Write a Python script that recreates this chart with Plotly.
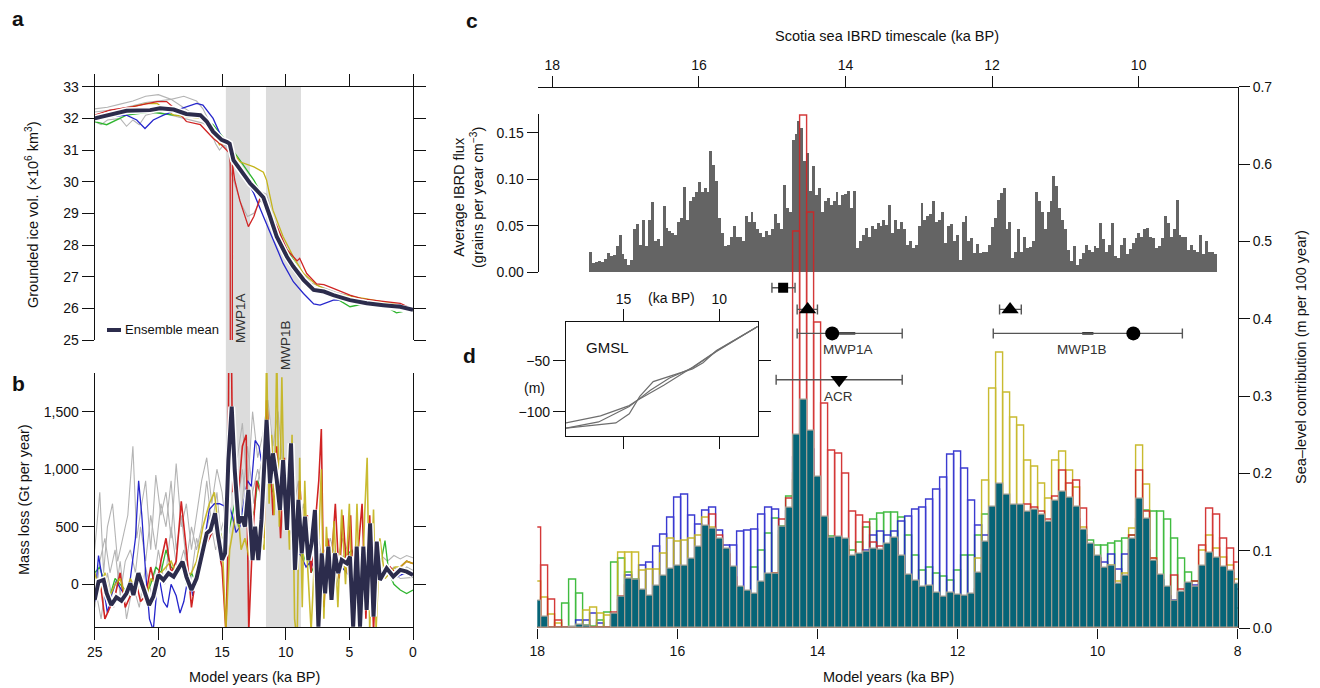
import plotly.graph_objects as go

W, H = 1320, 688
OFF = 8  # the page body margin shifts the figure by this many pixels
def px(x): return (x - OFF) / W
def py(y): return 1 - (y - OFF) / H

FONT = "Liberation Sans, Arial, Helvetica, sans-serif"
INK = "#111111"
C_MEAN = "#2c2c4c"
C_RED = "#d02424"
C_BLUE = "#2626cc"
C_GREEN = "#2fb52f"
C_YEL = "#c4b41a"
C_GREY = "#b4b4b4"
C_TEAL = "#066477"

# ---------------- Panel a: grounded ice volume (x10^6 km^3) ----------------
vol_mean_t = [25, 23.8, 22.5, 20.65, 19.87, 18.8, 17.8, 16.7, 16.2, 15.7, 15.03, 14.6, 14.4, 14.1, 13.3, 12.8, 12.3, 11.75, 11.23, 10.7, 9.9, 9.4, 8.6, 7.8, 7.0, 6.26, 4.95, 3.64, 2.33, 1.0, 0]
vol_mean = [32.0, 32.1, 32.24, 32.26, 32.32, 32.28, 32.14, 32.1, 31.9, 31.58, 31.32, 31.25, 31.2, 30.68, 30.2, 29.95, 29.74, 29.5, 28.9, 28.26, 27.63, 27.32, 26.9, 26.58, 26.53, 26.42, 26.26, 26.16, 26.1, 26.05, 25.95]

vol_blue_t = [25, 23.8, 22.5, 21.7, 21.05, 20.4, 19.6, 18.56, 17.0, 16.5, 15.7, 15.0, 14.1, 13.05, 12.5, 11.75, 11.0, 10.2, 9.4, 8.6, 7.8, 7.3, 6.26, 4.95, 3.64, 1.0, 0]
vol_blue = [32.05, 32.05, 32.1, 31.95, 31.68, 31.95, 32.1, 32.26, 32.47, 32.42, 32.0, 31.37, 30.84, 30.05, 29.63, 28.9, 28.16, 27.42, 26.84, 26.47, 26.14, 26.1, 26.26, 26.26, 26.18, 26.1, 25.97]

vol_red_t = [25, 23.8, 22, 20.1, 19.35, 18.56, 17.8, 16.7, 15.7, 15.03, 14.4, 14.36, 14.34, 14.2, 14.18, 14.0, 13.6, 12.93, 12.5, 12.0, 11.5, 10.7, 9.9, 9.1, 8.9, 8.6, 8.35, 7.57, 7.0, 6.26, 5.5, 4.95, 4.0, 3.0, 2.0, 1.0, 0]
vol_red = [32.1, 32.26, 32.37, 32.53, 32.53, 32.26, 31.9, 31.8, 31.37, 31.16, 30.9, 30.6, 20.0, 20.0, 30.55, 30.05, 29.4, 28.58, 28.9, 29.5, 29.15, 28.6, 27.85, 27.5, 27.58, 27.3, 27.1, 26.77, 26.75, 26.63, 26.5, 26.42, 26.3, 26.26, 26.2, 26.16, 25.97]

vol_green_t = [25, 24.06, 22.5, 20.65, 18.8, 16.7, 15.7, 14.63, 13.6, 12.5, 11.75, 11.0, 10.2, 9.4, 8.6, 7.8, 6.26, 4.95, 3.64, 2.33, 1.3, 0]
vol_green = [31.9, 31.8, 32.1, 32.2, 32.1, 32.05, 31.8, 31.26, 30.68, 30.05, 29.5, 28.8, 28.05, 27.53, 27.0, 26.68, 26.37, 26.05, 26.16, 26.1, 25.86, 25.97]

vol_yel_t = [25, 23.8, 22.0, 20.9, 20.1, 18.8, 16.7, 15.7, 15.2, 14.63, 14.1, 13.6, 12.5, 11.75, 11.5, 11.0, 10.2, 9.4, 8.6, 7.57, 6.26, 3.64, 1.0, 0]
vol_yel = [32.05, 32.15, 32.37, 32.47, 32.47, 32.1, 32.0, 31.63, 31.16, 31.26, 30.9, 30.63, 30.47, 30.3, 30.05, 29.1, 28.26, 27.63, 27.1, 26.74, 26.47, 26.3, 26.1, 25.97]

vol_grey1_t = [25, 24, 23, 22, 21, 20, 19, 18, 17, 16.5, 16, 15.5, 15, 14.5, 14, 13, 12, 11.5, 11, 10.5, 10, 9.5, 9, 8.5, 8, 7, 6, 5, 4, 3, 2, 1, 0]
vol_grey1 = [32.3, 32.35, 32.45, 32.55, 32.7, 32.75, 32.6, 32.7, 32.55, 32.3, 31.9, 31.5, 31.2, 31.0, 30.6, 30.1, 29.7, 29.6, 28.9, 28.4, 27.9, 27.5, 27.2, 27.0, 26.7, 26.55, 26.45, 26.35, 26.25, 26.2, 26.15, 26.05, 25.95]
vol_grey2_t = [25, 24.5, 24, 23, 22.5, 22, 21.5, 21, 20, 19, 18, 17, 16.5, 16, 15.5, 15.2, 15, 14.5, 14, 13, 12.5, 12, 11.5, 11, 10.5, 10, 9.5, 9, 8.5, 8, 7, 6, 5, 4, 3, 2, 1, 0]
vol_grey2 = [31.9, 31.8, 31.95, 32.0, 31.75, 31.95, 31.8, 32.1, 32.2, 32.1, 32.0, 31.9, 31.85, 31.7, 31.2, 31.0, 31.1, 31.2, 30.7, 30.2, 29.9, 29.6, 29.4, 28.8, 28.2, 27.7, 27.3, 27.0, 26.8, 26.6, 26.5, 26.4, 26.3, 26.2, 26.15, 26.1, 26.0, 25.95]
vol_grey3_t = [25, 23, 21, 19, 17.5, 16, 15, 14.5, 14.3, 13.5, 13, 12.5, 12, 11.5, 11, 10, 9, 8, 6, 4, 2, 0]
vol_grey3 = [32.2, 32.3, 32.5, 32.6, 32.2, 31.8, 31.15, 31.0, 30.3, 29.3, 28.9, 29.0, 29.4, 29.2, 28.6, 27.8, 27.3, 26.8, 26.5, 26.3, 26.15, 25.95]

# ---------------- Panel b: mass loss (Gt per year) ----------------
mass_mean_t = [25.0, 24.7, 24.3, 24.06, 23.7, 23.3, 22.9, 22.5, 22.2, 21.96, 21.57, 21.3, 21.05, 20.73, 20.4, 20.0, 19.6, 19.2, 18.8, 18.4, 18.1, 17.8, 17.4, 17.0, 16.6, 16.2, 15.9, 15.55, 15.3, 15.0, 14.76, 14.5, 14.24, 14.0, 13.7, 13.45, 13.2, 12.93, 12.6, 12.4, 12.15, 11.9, 11.5, 11.23, 11.0, 10.7, 10.45, 10.2, 9.9, 9.58, 9.27, 9.0, 8.74, 8.48, 8.22, 7.96, 7.7, 7.43, 7.17, 6.9, 6.65, 6.4, 6.13, 5.87, 5.6, 5.2, 4.95, 4.7, 4.42, 4.16, 3.9, 3.64, 3.37, 3.1, 2.85, 2.6, 2.07, 1.55, 1.0, 0.5, 0.0]
mass_mean = [-136, 23, 38, -78, -180, -113, -142, -78, 9, -93, 96, 9, -64, -180, -107, 81, 38, 96, 67, 139, 197, 67, -49, 52, 269, 443, 472, 617, 414, 211, 269, 1080, 1544, 993, 530, 588, 501, 820, 211, 501, 211, 559, 1428, 877, 1138, 906, 646, 1080, 472, 1225, 125, 733, 269, 588, 211, 356, 646, -368, 269, -78, 327, -136, 269, 96, 211, 182, 240, -368, 327, -368, 327, -223, 530, -281, 371, 38, 139, 67, 125, 110, 81]

mass_blue_t = [25, 24.7, 24.4, 24.0, 23.7, 23.3, 22.9, 22.5, 22.2, 21.8, 21.55, 21.3, 21.0, 20.7, 20.4, 20.0, 19.6, 19.3, 19.0, 18.6, 18.3, 18.0, 17.6, 17.3, 16.9, 16.5, 16.0, 15.6, 15.2, 14.8, 14.5, 14.2, 13.9, 13.6, 13.3, 13.0, 12.7, 12.4, 12.1, 11.8, 11.5, 11.2, 10.8, 10.4, 10.0, 9.6, 9.2, 8.8, 8.4, 8.0, 7.6, 7.2, 6.8, 6.4, 6.0, 5.6, 5.2, 4.8, 4.4, 4.0, 3.5, 3.0, 2.5, 2.0, 1.5, 1.0, 0.5, 0]
mass_blue = [-150, 250, 50, -250, -100, 30, -50, -100, 50, 400, 900, 600, 100, -300, -400, 100, -150, -200, 0, -100, -250, -150, 100, -100, 100, 300, 650, 700, 700, 680, 700, 600, 450, 500, 700, 900, 850, 1250, 1200, 1000, 1150, 900, 1000, 700, 600, 450, 300, 250, 150, 200, 100, 150, 50, 0, 100, 150, 100, 50, 150, 100, 50, 100, 50, 100, 50, 80, 100, 80]

mass_red_t = [25, 24.6, 24.2, 23.8, 23.4, 23.0, 22.6, 22.2, 21.8, 21.4, 21.0, 20.6, 20.2, 19.8, 19.4, 19.0, 18.6, 18.2, 17.8, 17.4, 17.0, 16.5, 16.0, 15.6, 15.3, 15.0, 14.7, 14.55, 14.45, 14.3, 14.15, 14.0, 13.7, 13.4, 13.1, 12.9, 12.6, 12.3, 12.0, 11.7, 11.5, 11.3, 11.0, 10.7, 10.4, 10.1, 9.8, 9.5, 9.2, 8.9, 8.6, 8.3, 8.0, 7.7, 7.4, 7.2, 7.0, 6.7, 6.4, 6.1, 5.8, 5.5, 5.2, 4.9, 4.6, 4.3, 4.0, 3.7, 3.4, 3.1, 2.8, 2.5, 2.2, 1.8, 1.4, 1.0, 0.5, 0]
mass_red = [-100, 50, -300, -200, -100, 100, -200, -100, 50, -150, -100, 150, -50, 200, 400, 100, 200, 720, 300, -200, 100, 300, 400, 500, 300, 150, -400, 200, 2500, 2500, 800, 1100, 800, 1200, 1300, -400, 400, 900, 800, 400, 1600, 1300, 600, 1200, 400, 1100, 600, 1000, 200, 900, 300, 600, 100, 500, 900, 1350, -200, 400, 200, 700, 50, 600, 100, 600, -300, 300, 700, -300, 600, -400, 300, 50, 100, 150, 100, 150, 200, 180]

mass_yel_t = [25, 24.6, 24.2, 23.8, 23.4, 23.0, 22.6, 22.2, 21.8, 21.4, 21.0, 20.6, 20.2, 19.8, 19.4, 19.0, 18.6, 18.2, 17.8, 17.4, 17.0, 16.5, 16.0, 15.6, 15.3, 15.0, 14.7, 14.4, 14.1, 13.8, 13.5, 13.2, 12.9, 12.6, 12.3, 12.0, 11.7, 11.5, 11.3, 11.1, 10.9, 10.7, 10.5, 10.3, 10.1, 9.9, 9.7, 9.5, 9.3, 9.1, 8.9, 8.7, 8.5, 8.3, 8.0, 7.7, 7.4, 7.2, 7.0, 6.8, 6.5, 6.2, 5.9, 5.6, 5.3, 5.0, 4.7, 4.4, 4.1, 3.8, 3.6, 3.4, 3.1, 2.9, 2.6, 2.2, 1.8, 1.4, 1.0, 0.5, 0]
mass_yel = [100, -50, 100, -100, 0, 50, -100, 50, -50, 0, -150, 50, 0, 100, 150, 200, 100, 200, 50, 100, 200, 500, 700, 800, 500, 400, -400, 300, 500, 700, 300, 400, 250, 300, 500, 400, 300, 2000, 700, 1300, 600, 2000, 500, 1800, 600, 900, 300, 1300, -300, -500, 1100, -200, 900, 200, -400, 300, 400, 1000, -300, 500, -100, 550, -200, 650, 0, 700, -400, 700, -400, 600, 1100, -400, 650, -400, 400, 50, 100, 150, 150, 200, 180]

mass_green_t = [25, 24.6, 24.2, 23.8, 23.4, 23.0, 22.6, 22.2, 21.8, 21.4, 21.0, 20.6, 20.2, 19.8, 19.4, 19.0, 18.6, 18.2, 17.8, 17.4, 17.0, 16.5, 16.0, 15.5, 15.0, 14.7, 14.4, 14.0, 13.7, 13.4, 13.1, 12.8, 12.5, 12.2, 11.9, 11.6, 11.3, 11.0, 10.7, 10.4, 10.1, 9.8, 9.5, 9.2, 8.9, 8.6, 8.3, 8.0, 7.6, 7.2, 6.8, 6.4, 6.0, 5.6, 5.2, 4.8, 4.4, 4.0, 3.5, 3.0, 2.5, 2.2, 1.9, 1.5, 1.0, 0.5, 0]
mass_green = [100, 150, 0, -100, 50, 0, -50, -100, 0, 100, -100, 0, 150, 100, 300, 150, 100, 200, 0, 100, 0, 300, 500, 600, 400, 300, 500, 700, 500, 600, 800, 700, 600, 900, 800, 1000, 900, 800, 900, 800, 900, 600, 500, 300, 400, 200, 300, 100, 200, 100, 150, 200, 100, 200, 250, 300, 150, 200, 150, 50, 200, 380, 100, 0, -50, -80, -50]

mass_grey1_t = [25, 24.6, 24.3, 24.0, 23.6, 23.2, 22.8, 22.4, 22.0, 21.7, 21.3, 21.0, 20.6, 20.2, 19.8, 19.4, 19.0, 18.6, 18.2, 17.8, 17.4, 17.0, 16.6, 16.2, 15.8, 15.4, 15.0, 14.6, 14.2, 13.8, 13.4, 13.0, 12.6, 12.2, 11.8, 11.4, 11.0, 10.6, 10.2, 9.8, 9.4, 9.0, 8.6, 8.2, 7.8, 7.4, 7.0, 6.5, 6.0, 5.5, 5.0, 4.5, 4.0, 3.5, 3.0, 2.5, 2.0, 1.5, 1.0, 0.5, 0]
mass_grey1 = [300, 800, 100, 500, 700, 200, 400, 600, 1200, 400, 700, 900, 300, 950, 600, 800, 400, 1050, 500, 700, 300, 600, 900, 1100, 700, 1000, 800, 400, 1300, 1100, 1400, 800, 1500, 1100, 1300, 1600, 1200, 1500, 1000, 700, 600, 500, 700, 300, 600, 300, 200, 400, 200, 400, 250, 300, 200, 300, 200, 250, 200, 250, 220, 250, 230]
mass_grey2_t = [25, 24.6, 24.2, 23.8, 23.4, 23.0, 22.6, 22.2, 21.8, 21.4, 21.0, 20.6, 20.2, 19.8, 19.4, 19.0, 18.6, 18.2, 17.8, 17.4, 17.0, 16.6, 16.2, 15.8, 15.4, 15.0, 14.6, 14.2, 13.8, 13.4, 13.0, 12.6, 12.2, 11.8, 11.4, 11.0, 10.6, 10.2, 9.8, 9.4, 9.0, 8.6, 8.2, 7.8, 7.4, 7.0, 6.5, 6.0, 5.5, 5.0, 4.5, 4.0, 3.5, 3.0, 2.5, 2.0, 1.5, 1.0, 0.5, 0]
mass_grey2 = [-200, 200, 400, 100, 300, -100, 200, 300, 100, 500, 200, 600, 300, 700, 500, 900, 300, 600, 200, 500, 300, 500, 900, 500, 800, 300, 600, 900, 700, 1000, 600, 800, 1000, 800, 1100, 900, 1000, 700, 900, 400, 700, 300, 500, 200, 400, 100, 300, 0, 250, 100, 200, 50, 150, 100, 150, 100, 150, 100, 150, 120]
mass_grey3_t = [25, 24.5, 24.0, 23.5, 23.0, 22.5, 22.0, 21.5, 21.0, 20.5, 20.0, 19.5, 19.0, 18.5, 18.0, 17.5, 17.0, 16.5, 16.0, 15.5, 15.0, 14.5, 14.0, 13.5, 13.0, 12.5, 12.0, 11.5, 11.0, 10.5, 10.0, 9.5, 9.0, 8.5, 8.0, 7.5, 7.0, 6.0, 5.0, 4.0, 3.0, 2.0, 1.0, 0]
mass_grey3 = [0, -300, 100, -200, 200, -300, 0, -200, 150, -100, 300, 0, 500, 100, 300, 0, 400, 200, 600, 300, 500, 700, 900, 600, 1200, 700, 1000, 1300, 900, 1100, 800, 600, 900, 400, 500, 200, 300, 100, 200, 0, 100, 150, 50, 60]

# ---------------- Panel c: IBRD flux (Scotia sea timescale) ----------------
ibrd_start = 17.5
ibrd_step = 0.04
ibrd_flux = [
    0.022, 0.010, 0.011, 0.012, 0.011, 0.014, 0.020, 0.017, 0.018, 0.028,
    0.040, 0.019, 0.014, 0.008, 0.013, 0.046, 0.052, 0.029, 0.056, 0.028,
    0.056, 0.075, 0.033, 0.035, 0.028, 0.071, 0.047, 0.044, 0.042, 0.040,
    0.054, 0.058, 0.091, 0.056, 0.076, 0.081, 0.086, 0.097, 0.086, 0.090,
    0.086, 0.130, 0.115, 0.098, 0.058, 0.042, 0.028, 0.029, 0.038, 0.049,
    0.038, 0.038, 0.033, 0.060, 0.054, 0.065, 0.054, 0.046, 0.042, 0.038,
    0.044, 0.040, 0.046, 0.062, 0.053, 0.046, 0.094, 0.069, 0.065, 0.142,
    0.148, 0.162, 0.155, 0.119, 0.128, 0.087, 0.114, 0.083, 0.090, 0.065,
    0.076, 0.080, 0.072, 0.076, 0.086, 0.072, 0.083, 0.084, 0.087, 0.069,
    0.087, 0.026, 0.033, 0.040, 0.047, 0.038, 0.049, 0.046, 0.053, 0.049,
    0.056, 0.051, 0.072, 0.042, 0.056, 0.046, 0.054, 0.046, 0.029, 0.033,
    0.026, 0.029, 0.049, 0.074, 0.056, 0.060, 0.062, 0.076, 0.054, 0.056,
    0.065, 0.031, 0.049, 0.052, 0.033, 0.040, 0.013, 0.054, 0.060, 0.033,
    0.037, 0.020, 0.030, 0.020, 0.022, 0.022, 0.029, 0.048, 0.058, 0.078,
    0.085, 0.090, 0.046, 0.054, 0.015, 0.022, 0.046, 0.022, 0.038, 0.026,
    0.027, 0.033, 0.086, 0.076, 0.065, 0.046, 0.065, 0.076, 0.103, 0.092,
    0.069, 0.056, 0.046, 0.024, 0.012, 0.028, 0.008, 0.014, 0.020, 0.029,
    0.024, 0.022, 0.028, 0.026, 0.053, 0.035, 0.022, 0.029, 0.053, 0.017,
    0.015, 0.029, 0.037, 0.019, 0.025, 0.031, 0.037, 0.042, 0.038, 0.046,
    0.047, 0.038, 0.037, 0.026, 0.028, 0.037, 0.060, 0.053, 0.038, 0.046,
    0.078, 0.040, 0.038, 0.038, 0.024, 0.029, 0.024, 0.022, 0.040, 0.019,
    0.033, 0.022, 0.022, 0.019]
ibrd_age = [round(ibrd_start - ibrd_step * (i + 0.5), 3) for i in range(len(ibrd_flux))]

# ---------------- Panel d: sea-level contribution (m per 100 year) ----------------
hist_age = [round(18.0 - 0.1 * k, 1) for k in range(101)]
hist_mean = [
    0.035, 0.015, 0.0, 0.0, 0.0, 0.002, 0.004, 0.003, 0.001, 0.0,
    0.0, 0.018, 0.041, 0.064, 0.063, 0.050, 0.042, 0.055, 0.067, 0.077,
    0.080, 0.080, 0.089, 0.105, 0.132, 0.129, 0.115, 0.102, 0.079, 0.054,
    0.048, 0.045, 0.060, 0.070, 0.070, 0.131, 0.155, 0.250, 0.295, 0.255,
    0.196, 0.144, 0.117, 0.118, 0.115, 0.093, 0.096, 0.099, 0.102, 0.101,
    0.109, 0.117, 0.094, 0.069, 0.061, 0.054, 0.055, 0.046, 0.040, 0.046,
    0.043, 0.042, 0.044, 0.071, 0.111, 0.157, 0.186, 0.172, 0.160, 0.160,
    0.150, 0.153, 0.146, 0.138, 0.164, 0.176, 0.168, 0.157, 0.127, 0.109,
    0.094, 0.078, 0.081, 0.057, 0.068, 0.116, 0.167, 0.141, 0.087, 0.069,
    0.053, 0.035, 0.047, 0.059, 0.053, 0.081, 0.098, 0.091, 0.079, 0.074,
    0.057]
hist_red = [
    0.13, 0.081, 0.037, 0.009, 0, 0, 0, 0, 0, 0,
    0, 0.02, 0.04, 0.055, 0.05, 0.04, 0.038, 0.037, 0.04, 0.04,
    0.05, 0.057, 0.065, 0.09, 0.13, 0.147, 0.119, 0.095, 0.065, 0.02,
    0.01, 0.005, 0.02, 0.04, 0.07, 0.14, 0.167, 0.513, 0.663, 0.537,
    0.395, 0.29, 0.229, 0.225, 0.20, 0.15, 0.145, 0.136, 0.11, 0.105,
    0.1, 0.11, 0.05, 0.03, 0.02, 0.02, 0.015, 0.02, 0.03, 0.02,
    0.015, 0.02, 0.03, 0.05, 0.08, 0.125, 0.135, 0.12, 0.14, 0.145,
    0.16, 0.155, 0.15, 0.14, 0.17, 0.203, 0.186, 0.19, 0.154, 0.101,
    0.09, 0.07, 0.075, 0.045, 0.066, 0.12, 0.203, 0.15, 0.09, 0.04,
    0.03, 0.067, 0.05, 0.055, 0.06, 0.106, 0.154, 0.147, 0.116, 0.103,
    0.085]
hist_blue = [
    0, 0, 0, 0, 0, 0, 0.009, 0.009, 0.018, 0.005,
    0, 0.01, 0.035, 0.067, 0.06, 0.081, 0.085, 0.105, 0.121, 0.142,
    0.168, 0.172, 0.145, 0.134, 0.152, 0.156, 0.126, 0.106, 0.106, 0.124,
    0.126, 0.127, 0.146, 0.155, 0.153, 0.125, 0.15, 0.22, 0.25, 0.23,
    0.14, 0.12, 0.08, 0.075, 0.07, 0.085, 0.09, 0.1, 0.12, 0.125,
    0.12, 0.125, 0.137, 0.144, 0.153, 0.155, 0.166, 0.179, 0.194, 0.224,
    0.228, 0.206, 0.164, 0.132, 0.119, 0.12, 0.128, 0.127, 0.103, 0.12,
    0.115, 0.11, 0.1, 0.13, 0.14, 0.15, 0.155, 0.14, 0.12, 0.09,
    0.09, 0.085, 0.095, 0.075, 0.095, 0.1, 0.12, 0.1, 0.08, 0.061,
    0.041, 0.035, 0.045, 0.05, 0.055, 0.06, 0.07, 0.07, 0.072, 0.07,
    0.05]
hist_green = [
    0, 0, 0, 0, 0.032, 0.063, 0.045, 0.003, 0.002, 0.01,
    0.02, 0.084, 0.09, 0.071, 0.063, 0.02, 0.015, 0.02, 0.03, 0.04,
    0.03, 0.025, 0.04, 0.075, 0.09, 0.1, 0.065, 0.06, 0.05, 0.035,
    0.045, 0.078, 0.1, 0.122, 0.141, 0.131, 0.17, 0.19, 0.2, 0.19,
    0.13, 0.14, 0.118, 0.115, 0.105, 0.1, 0.11, 0.13, 0.14, 0.148,
    0.149, 0.149, 0.142, 0.12, 0.094, 0.074, 0.078, 0.07, 0.066, 0.061,
    0.074, 0.094, 0.094, 0.12, 0.146, 0.15, 0.145, 0.138, 0.13, 0.125,
    0.12, 0.115, 0.11, 0.125, 0.13, 0.125, 0.13, 0.13, 0.11, 0.113,
    0.106, 0.106, 0.109, 0.112, 0.115, 0.12, 0.14, 0.152, 0.15, 0.15,
    0.14, 0.115, 0.089, 0.071, 0.06, 0.05, 0.045, 0.04, 0.038, 0.03,
    0.025]
hist_yel = [
    0.06, 0.039, 0.017, 0.006, 0, 0, 0, 0.022, 0.026, 0.019,
    0.016, 0.01, 0.097, 0.097, 0.097, 0.074, 0.076, 0.076, 0.096, 0.115,
    0.112, 0.113, 0.116, 0.12, 0.143, 0.13, 0.11, 0.097, 0.06, 0.04,
    0.02, 0.02, 0.035, 0.05, 0.07, 0.12, 0.14, 0.2, 0.22, 0.2,
    0.09, 0.07, 0.06, 0.05, 0.04, 0.04, 0.035, 0.04, 0.05, 0.06,
    0.07, 0.08, 0.06, 0.04, 0.03, 0.025, 0.02, 0.015, 0.02, 0.025,
    0.015, 0.01, 0.03, 0.09, 0.19, 0.31, 0.356, 0.304, 0.272, 0.261,
    0.217, 0.209, 0.187, 0.167, 0.216, 0.228, 0.203, 0.181, 0.13, 0.1,
    0.08, 0.07, 0.08, 0.06, 0.07, 0.129, 0.236, 0.185, 0.09, 0.05,
    0.02, 0.01, 0.03, 0.04, 0.05, 0.1, 0.12, 0.103, 0.091, 0.081,
    0.062]

# Dated events (model years, ka BP): central age, older bound, younger bound
event_age = [14.49, 14.14, 13.79, 13.69, 11.25, 9.49]
event_old = [14.65, 14.29, 14.29, 14.59, 11.40, 11.49]
event_young = [14.32, 14.00, 12.79, 12.79, 11.09, 8.79]
event_label = ["", "", "MWP1A", "ACR", "", "MWP1B"]
# narrower inner (1-sigma) ranges drawn darker on MWP1A and MWP1B
inner_old = [13.71, 10.22]
inner_young = [13.46, 10.06]

# GMSL inset (ka BP, m)
gmsl_a_t = [18, 16.2, 14.7, 14.3, 12.9, 11.4, 10.15, 8.0]
gmsl_a = [-111, -104, -94, -89, -74, -56.5, -40.5, -16.5]
gmsl_b_t = [18, 15.4, 14.7, 14.15, 13.45, 12.9, 11.4, 10.85, 10.15, 8.0]
gmsl_b = [-116, -111, -102, -85, -70.5, -67, -58, -52, -40, -16.5]
gmsl_c_t = [18, 16.3, 14.7, 13.6, 12.6, 11.4, 10.15, 8.0]
gmsl_c = [-116, -110, -95, -79, -67, -57, -41, -16.5]

# ---------------- Figure ----------------
fig = go.Figure()

def line(t, v, color, width, xa, ya, opacity=1.0):
    fig.add_trace(go.Scatter(x=t, y=v, mode="lines", xaxis=xa, yaxis=ya,
                             line=dict(color=color, width=width), opacity=opacity,
                             showlegend=False, hoverinfo="skip"))

# panel a
for t, v in [(vol_grey1_t, vol_grey1), (vol_grey2_t, vol_grey2), (vol_grey3_t, vol_grey3)]:
    line(t, v, C_GREY, 1.1, "x", "y")
line(vol_green_t, vol_green, C_GREEN, 1.3, "x", "y")
line(vol_yel_t, vol_yel, C_YEL, 1.3, "x", "y")
line(vol_blue_t, vol_blue, C_BLUE, 1.3, "x", "y")
line(vol_red_t, vol_red, C_RED, 1.3, "x", "y")
line(vol_mean_t, vol_mean, "white", 7, "x", "y")
line(vol_mean_t, vol_mean, C_MEAN, 4, "x", "y")

# panel b
for t, v in [(mass_grey1_t, mass_grey1), (mass_grey2_t, mass_grey2), (mass_grey3_t, mass_grey3)]:
    line(t, v, C_GREY, 1.1, "x2", "y2")
line(mass_green_t, mass_green, C_GREEN, 1.3, "x2", "y2")
line(mass_blue_t, mass_blue, C_BLUE, 1.3, "x2", "y2")
line(mass_red_t, mass_red, C_RED, 1.6, "x2", "y2")
line(mass_yel_t, mass_yel, C_YEL, 1.6, "x2", "y2", 0.9)
line(mass_mean_t, mass_mean, "white", 7, "x2", "y2")
line(mass_mean_t, mass_mean, C_MEAN, 4, "x2", "y2")

# panel c: IBRD flux
fig.add_trace(go.Bar(x=ibrd_age, y=ibrd_flux, xaxis="x3", yaxis="y3", width=ibrd_step,
                     marker=dict(color="#646464", line=dict(width=0)),
                     showlegend=False, hoverinfo="skip"))

# panel d: histograms
for vals, col in [(hist_green, C_GREEN), (hist_blue, C_BLUE), (hist_yel, C_YEL), (hist_red, C_RED)]:
    fig.add_trace(go.Bar(x=hist_age, y=vals, xaxis="x4", yaxis="y4", width=0.1,
                         marker=dict(color="rgba(255,255,255,0)", line=dict(color=col, width=1.4)),
                         opacity=0.9, showlegend=False, hoverinfo="skip"))
fig.add_trace(go.Bar(x=hist_age, y=hist_mean, xaxis="x4", yaxis="y4", width=0.1,
                     marker=dict(color=C_TEAL, line=dict(color="#a19d92", width=1.3)),
                     showlegend=False, hoverinfo="skip"))

# dated events with uncertainty ranges
event_row = [0.44, 0.412, 0.381, 0.321, 0.412, 0.381]
event_symbol = ["square", "triangle-up", "circle", "triangle-down", "triangle-up", "circle"]
event_size = [10, 15, 14, 15, 15, 14]
inner_row = [0.381, 0.381]
for o, yg, r in zip(inner_old, inner_young, inner_row):
    line([o, yg], [r, r], "#333333", 2.6, "x4", "y4")
for a, o, yg, r, s, sz in zip(event_age, event_old, event_young, event_row, event_symbol, event_size):
    fig.add_trace(go.Scatter(x=[a], y=[r], xaxis="x4", yaxis="y4", mode="markers",
                             marker=dict(symbol=s, size=sz, color="black"),
                             error_x=dict(type="data", symmetric=False, array=[o - a], arrayminus=[a - yg],
                                          color="#555555", thickness=1.4, width=5),
                             showlegend=False, hoverinfo="skip"))

# inset GMSL
for t, v in [(gmsl_a_t, gmsl_a), (gmsl_b_t, gmsl_b), (gmsl_c_t, gmsl_c)]:
    line(t, v, "#6e6e6e", 1.2, "x5", "y5")

base = dict(showgrid=False, zeroline=False, showline=True, linecolor=INK, linewidth=1.3,
            ticks="outside", tickcolor=INK, tickwidth=1.3, automargin=False,
            tickfont=dict(family=FONT, size=14, color=INK))

ages_ab = [25, 20, 15, 10, 5, 0]
fig.update_layout(
    width=W, height=H, autosize=False,
    margin=dict(l=0, r=0, t=0, b=0, pad=0, autoexpand=False),
    paper_bgcolor="white", plot_bgcolor="rgba(0,0,0,0)",
    barmode="overlay", bargap=0, showlegend=False,
    font=dict(family=FONT, size=14, color=INK),
    xaxis=dict(base, domain=[px(94.7), px(413)], range=[25, 0], anchor="y", side="top",
               tickvals=ages_ab, showticklabels=False, ticklen=12),
    yaxis=dict(base, domain=[py(340), py(86.7)], range=[25, 33], anchor="x", mirror="ticks",
               dtick=1, ticklen=12),
    xaxis2=dict(base, domain=[px(94.7), px(413)], range=[25, 0], anchor="y2",
                tickvals=ages_ab, ticklen=12),
    yaxis2=dict(base, domain=[py(627), py(373)], range=[-371, 1836], anchor="x2", mirror="ticks",
                tickvals=[0, 500, 1000, 1500], ticktext=["0", "500", "1,000", "1,500"], ticklen=12),
    xaxis3=dict(base, domain=[px(537.7), px(1238.3)], range=[18.2, 8.64], anchor="free",
                position=py(86.7), side="top", tickvals=[18, 16, 14, 12, 10], ticklen=11),
    yaxis3=dict(base, domain=[py(272.3), py(114.3)], range=[0, 0.17], anchor="free",
                position=px(537.7), side="left", tickvals=[0, 0.05, 0.10, 0.15],
                ticktext=["0.00", "0.05", "0.10", "0.15"], ticklen=11),
    xaxis4=dict(base, showline=False, domain=[px(537.3), px(1237.7)], range=[18, 8], anchor="y4",
                tickvals=[18, 16, 14, 12, 10, 8], ticklen=10),
    yaxis4=dict(base, domain=[py(628), py(86.7)], range=[0, 0.7], anchor="x4", side="right",
                tickvals=[0, 0.1, 0.2, 0.3, 0.4, 0.5, 0.6, 0.7], tickformat=".1f", ticklen=11),
    xaxis5=dict(base, domain=[px(566), px(757.7)], range=[18, 8], anchor="y5", side="top",
                mirror="ticks", tickvals=[15, 10], ticklen=12),
    yaxis5=dict(base, domain=[py(435.7), py(322.3)], range=[-123.5, -12.4], anchor="x5",
                mirror="ticks", tickvals=[-50, -100], ticktext=["\u221250", "\u2212100"], ticklen=12),
)

# shaded meltwater-pulse intervals across panels a and b
for x0, x1 in [(14.7, 12.8), (11.55, 8.8)]:
    fig.add_shape(type="rect", xref="x", yref="paper", x0=x0, x1=x1, y0=py(627), y1=py(86.7),
                  fillcolor="#dcdcdc", line=dict(width=0), layer="below")

# legend for panel a
fig.add_shape(type="line", xref="paper", yref="paper", x0=px(107), x1=px(121), y0=py(330), y1=py(330),
              line=dict(color=C_MEAN, width=4))

def ann(x, y, text, size=14, angle=0, xanchor="center", bold=False, color=INK, ref=("paper", "paper")):
    if bold:
        text = "<b>" + text + "</b>"
    fig.add_annotation(x=x, y=y, xref=ref[0], yref=ref[1], text=text, showarrow=False,
                       textangle=angle, xanchor=xanchor, yanchor="middle",
                       font=dict(family=FONT, size=size, color=color))

ann(px(18), py(18), "a", 21, bold=True)
ann(px(18), py(383), "b", 21, bold=True)
ann(px(472), py(20), "c", 21, bold=True)
ann(px(470), py(355), "d", 21, bold=True)

ann(px(123), py(330), "Ensemble mean", 13, xanchor="left")
ann(px(32), py(215), "Grounded ice vol. (\u00d710<sup>6</sup> km<sup>3</sup>)", 14.5, angle=-90)
ann(px(24), py(500), "Mass loss (Gt per year)", 14.5, angle=-90)
ann(px(254), py(677), "Model years (ka BP)", 14.5)
ann(px(888), py(677), "Model years (ka BP)", 14.5)
ann(px(887), py(36), "Scotia sea IBRD timescale (ka BP)", 14.5)
ann(px(468), py(198), "Average IBRD flux<br>(grains per year cm<sup>\u22123</sup>)", 14.5, angle=-90)
ann(px(1301), py(357), "Sea\u2013level contribution (m per 100 year)", 14.5, angle=-90)
ann(px(240), py(318), "MWP1A", 13.5, angle=-90, color="#333333")
ann(px(285), py(345), "MWP1B", 13.5, angle=-90, color="#333333")

# inset annotations
ann(px(607), py(347), "GMSL", 15)
ann(px(671), py(298), "(ka BP)", 14)
ann(px(534), py(388), "(m)", 14)

# event labels (model-year axis, placed beneath their markers)
label_row = [None, None, 0.3596, 0.299, None, 0.3596]
label_age = [None, None, 13.56, 13.70, None, 10.22]
for lab, la, lr in zip(event_label, label_age, label_row):
    if lab:
        ann(la, lr, lab, 13.5, color="#333333", ref=("x4", "y4"))

fig.write_html("out.html")
